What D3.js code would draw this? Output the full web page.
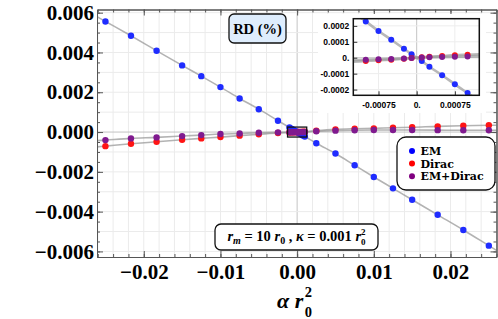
<!DOCTYPE html>
<html>
<head>
<meta charset="utf-8">
<script src="https://cdn.jsdelivr.net/npm/d3@7"></script>
<style>
  body { margin: 0; background: #fff; }
  svg { display: block; }
</style>
</head>
<body>
<div id="chart"></div>
<script>

// data
var alphaValues = [-0.025, -0.02167, -0.01833, -0.015, -0.0125, -0.01, -0.0075, -0.005, -0.0025, -0.001,
  -0.00075, -0.0005, -0.00025, -0.0001, 0.0001, 0.00025, 0.0005, 0.00075, 0.001,
  0.0025, 0.005, 0.0075, 0.01, 0.0125, 0.015, 0.01833, 0.02167, 0.025];

var emValues = [0.00556, 0.00484, 0.00409, 0.00335, 0.00281, 0.00226, 0.00169, 0.00115, 0.00057, 0.000228,
  0.000168, 0.000113, 0.0000565, 0.0000213, -0.0000207, -0.0000565, -0.00011, -0.000167, -0.000222,
  -0.00056, -0.00108, -0.00167, -0.00226, -0.00283, -0.0034, -0.00416, -0.00492, -0.00571];

var diracValues = [-0.000708, -0.000591, -0.00049, -0.000389, -0.000318, -0.000253, -0.00018, -0.000115, -0.00005, -0.0000207,
  -0.0000165, -0.000012, -0.000006, -0.000002, 0.000003, 0.000006, 0.000011, 0.000016, 0.000019,
  0.00007, 0.000136, 0.000167, 0.000187, 0.000217, 0.000238, 0.000288, 0.000318, 0.000339];

var emDiracValues = [-0.000404, -0.000318, -0.000268, -0.000202, -0.000152, -0.000101, -0.00007, -0.000035, -0.000015, -0.0000126,
  -0.00001, -0.000008, -0.000005, -0.000002, 0.000001, 0.000003, 0.000005, 0.000006, 0.000008,
  0.00004, 0.00007, 0.00009, 0.0001, 0.0001, 0.0001, 0.000095, 0.00009, 0.00009];

var seriesNames = ["EM", "Dirac", "EM+Dirac"];
var seriesColors = ["#1f2cff", "#ff1414", "#801a8f"];
var legendColors = ["#0000ff", "#ff0000", "#800080"];

var xTickValues = [-0.02, -0.01, 0, 0.01, 0.02];
var yTickValues = [-0.006, -0.004, -0.002, 0, 0.002, 0.004, 0.006];
var insetXTicks = [-0.00075, 0, 0.00075];
var insetXLabels = ["-0.00075", "0.", "0.00075"];
var insetYTicks = [-0.0002, -0.0001, 0, 0.0001, 0.0002];
var insetYLabels = ["-0.0002", "-0.0001", "0.", "0.0001", "0.0002"];

var seriesValues = [emValues, diracValues, emDiracValues];

// size of the page
var width = 498, height = 319;

var svg = d3.select("#chart").append("svg")
    .attr("width", width)
    .attr("height", height);

// main plot scales
var x = d3.scaleLinear().domain([-0.0261, 0.026]).range([97, 496.5]);
var y = d3.scaleLinear().domain([-0.00628, 0.00616]).range([257, 9.5]);

var serif = "'Liberation Serif', 'Times New Roman', serif";
var wideSerif = "'DejaVu Serif', serif";
var frameColor = "#555";

svg.append("clipPath").attr("id", "mainClip")
  .append("rect")
    .attr("x", x.range()[0]).attr("y", y.range()[1])
    .attr("width", x.range()[1] - x.range()[0])
    .attr("height", y.range()[0] - y.range()[1]);

// gridlines
var grid = svg.append("g");
grid.selectAll(".vgrid")
    .data(d3.range(-0.026, 0.0261, 0.002))
  .enter().append("line")
    .attr("x1", function(d) { return x(d); })
    .attr("x2", function(d) { return x(d); })
    .attr("y1", y.range()[0]).attr("y2", y.range()[1])
    .style("stroke", function(d) { return Math.abs(d) < 1e-9 ? "#c4c4c4" : "#ebebeb"; })
    .style("stroke-width", 1);
grid.selectAll(".hgrid")
    .data(d3.range(-0.006, 0.00601, 0.001))
  .enter().append("line")
    .attr("x1", x.range()[0]).attr("x2", x.range()[1])
    .attr("y1", function(d) { return y(d); })
    .attr("y2", function(d) { return y(d); })
    .style("stroke", function(d) { return Math.abs(d) < 1e-9 ? "#c4c4c4" : "#ebebeb"; })
    .style("stroke-width", 1);

// extends a series linearly out to the given edges
function extendLine(vals, x0, x1) {
  var pts = alphaValues.map(function(a, i) { return [a, vals[i]]; })
    .filter(function(p) { return p[0] >= x0 && p[0] <= x1; });
  var n = pts.length;
  var s0 = (pts[1][1] - pts[0][1]) / (pts[1][0] - pts[0][0]);
  var s1 = (pts[n - 1][1] - pts[n - 2][1]) / (pts[n - 1][0] - pts[n - 2][0]);
  return [[x0, pts[0][1] + s0 * (x0 - pts[0][0])]]
    .concat(pts)
    .concat([[x1, pts[n - 1][1] + s1 * (x1 - pts[n - 1][0])]]);
}

var mainLine = d3.line()
    .x(function(d) { return x(d[0]); })
    .y(function(d) { return y(d[1]); })
    .curve(d3.curveMonotoneX);

var plot = svg.append("g").attr("clip-path", "url(#mainClip)");

seriesValues.forEach(function(vals) {
  plot.append("path")
      .datum(extendLine(vals, x.domain()[0], x.domain()[1]))
      .attr("d", mainLine)
      .style("fill", "none")
      .style("stroke", "#9a9a9a")
      .style("stroke-opacity", 0.75)
      .style("stroke-width", 1.6);
});

seriesValues.forEach(function(vals, k) {
  plot.selectAll(".pt" + k)
      .data(alphaValues)
    .enter().append("circle")
      .attr("cx", function(d) { return x(d); })
      .attr("cy", function(d, i) { return y(vals[i]); })
      .attr("r", 3.2)
      .style("fill", seriesColors[k]);
});

// zoom box around the origin
svg.append("rect")
    .attr("x", x(-0.00125)).attr("y", y(0.00025))
    .attr("width", x(0.00125) - x(-0.00125))
    .attr("height", y(-0.00025) - y(0.00025))
    .style("fill", "none")
    .style("stroke", "#111")
    .style("stroke-width", 1.3);

// axes with inward ticks on all four sides
function styleAxis(g) {
  g.select(".domain").style("stroke", frameColor);
  g.selectAll(".tick line").style("stroke", frameColor);
}

var minorX = d3.range(-0.026, 0.0261, 0.002);
var minorY = d3.range(-0.006, 0.00601, 0.0005);

svg.append("g")
    .attr("transform", "translate(0," + y.range()[0] + ")")
    .call(d3.axisBottom(x).tickValues(minorX).tickSize(-3).tickSizeOuter(0).tickFormat(""))
    .call(styleAxis);
svg.append("g")
    .attr("transform", "translate(0," + y.range()[1] + ")")
    .call(d3.axisTop(x).tickValues(minorX).tickSize(-3).tickSizeOuter(0).tickFormat(""))
    .call(styleAxis);
svg.append("g")
    .attr("transform", "translate(" + x.range()[0] + ",0)")
    .call(d3.axisLeft(y).tickValues(minorY).tickSize(-3).tickSizeOuter(0).tickFormat(""))
    .call(styleAxis);
svg.append("g")
    .attr("transform", "translate(" + x.range()[1] + ",0)")
    .call(d3.axisRight(y).tickValues(minorY).tickSize(-3).tickSizeOuter(0).tickFormat(""))
    .call(styleAxis);

var xAxis = svg.append("g")
    .attr("transform", "translate(0," + y.range()[0] + ")")
    .call(d3.axisBottom(x).tickValues(xTickValues).tickSize(-6).tickSizeOuter(0)
      .tickPadding(7).tickFormat(d3.format(".2f")))
    .call(styleAxis);
svg.append("g")
    .attr("transform", "translate(0," + y.range()[1] + ")")
    .call(d3.axisTop(x).tickValues(xTickValues).tickSize(-6).tickSizeOuter(0).tickFormat(""))
    .call(styleAxis);
var yAxis = svg.append("g")
    .attr("transform", "translate(" + x.range()[0] + ",0)")
    .call(d3.axisLeft(y).tickValues(yTickValues).tickSize(-6).tickSizeOuter(0)
      .tickPadding(3).tickFormat(d3.format(".3f")))
    .call(styleAxis);
svg.append("g")
    .attr("transform", "translate(" + x.range()[1] + ",0)")
    .call(d3.axisRight(y).tickValues(yTickValues).tickSize(-6).tickSizeOuter(0).tickFormat(""))
    .call(styleAxis);

[xAxis, yAxis].forEach(function(g) {
  g.selectAll("text")
      .style("font-family", serif)
      .style("font-weight", "bold")
      .style("font-size", "21px")
      .style("fill", "#000");
});

// x axis title: alpha r0^2
var xTitle = svg.append("text")
    .attr("x", 277)
    .attr("y", 308)
    .style("font-family", serif)
    .style("font-weight", "bold")
    .style("font-style", "italic")
    .style("font-size", "22px");
xTitle.append("tspan").text("\u03b1 r");
xTitle.append("tspan").attr("dx", 1.5).attr("dy", -11).style("font-size", "14.5px").style("font-style", "normal").text("2");
xTitle.append("tspan").attr("dx", -7.3).attr("dy", 19.5).style("font-size", "14.5px").style("font-style", "normal").text("0");

// RD (%) label
svg.append("rect")
    .attr("x", 229).attr("y", 14).attr("width", 57).attr("height", 29)
    .attr("rx", 5).attr("ry", 5)
    .style("fill", "#deedfd")
    .style("stroke", "#111")
    .style("stroke-width", 1.3);
svg.append("text")
    .attr("x", 257.5).attr("y", 29)
    .attr("text-anchor", "middle")
    .attr("dominant-baseline", "central")
    .style("font-family", serif)
    .style("font-weight", "bold")
    .style("font-size", "14.5px")
    .text("RD (%)");

// parameter label
svg.append("rect")
    .attr("x", 215).attr("y", 224).attr("width", 163).attr("height", 26)
    .attr("rx", 6).attr("ry", 6)
    .style("fill", "#fff")
    .style("stroke", "#111")
    .style("stroke-width", 1.3);
var params = svg.append("text")
    .attr("x", 296.5).attr("y", 241)
    .attr("text-anchor", "middle")
    .style("font-family", serif)
    .style("font-weight", "bold")
    .style("font-size", "14.5px");
params.append("tspan").style("font-style", "italic").text("r");
params.append("tspan").attr("dy", 3).style("font-style", "italic").style("font-size", "10px").text("m");
params.append("tspan").attr("dy", -3).text(" = 10 ");
params.append("tspan").style("font-style", "italic").text("r");
params.append("tspan").attr("dy", 3).style("font-size", "10px").text("0");
params.append("tspan").attr("dy", -3).text(" ,  ");
params.append("tspan").style("font-style", "italic").text("\u03ba");
params.append("tspan").text(" = 0.001 ");
params.append("tspan").style("font-style", "italic").text("r");
params.append("tspan").attr("dy", -6.5).style("font-size", "9px").text("2");
params.append("tspan").attr("dx", -4.5).attr("dy", 10.5).style("font-size", "9px").text("0");

// legend
var legend = svg.append("g");
legend.append("rect")
    .attr("x", 397).attr("y", 137).attr("width", 98).attr("height", 53)
    .attr("rx", 9).attr("ry", 9)
    .style("fill", "#fff")
    .style("stroke", "#111")
    .style("stroke-width", 1.3);
var legendItem = legend.selectAll(".item")
    .data(seriesNames)
  .enter().append("g")
    .attr("transform", function(d, i) { return "translate(412," + (151 + i * 12.6) + ")"; });
legendItem.append("circle")
    .attr("r", 3)
    .style("fill", function(d, i) { return legendColors[i]; });
legendItem.append("text")
    .attr("x", 8.5)
    .attr("dy", "0.36em")
    .style("font-family", wideSerif)
    .style("font-weight", "bold")
    .style("font-size", "11px")
    .text(function(d) { return d; });

// inset
var ix = d3.scaleLinear().domain([-0.001245, 0.00123]).range([353.3, 479.3]);
var iy = d3.scaleLinear().domain([-0.000236, 0.000245]).range([95.3, 18.7]);

svg.append("rect")
    .attr("x", 318).attr("y", 14).attr("width", 168).attr("height", 99)
    .style("fill", "#fff");

svg.append("clipPath").attr("id", "insetClip")
  .append("rect")
    .attr("x", ix.range()[0]).attr("y", iy.range()[1])
    .attr("width", ix.range()[1] - ix.range()[0])
    .attr("height", iy.range()[0] - iy.range()[1]);

var inset = svg.append("g");
inset.selectAll(".ivgrid")
    .data(insetXTicks)
  .enter().append("line")
    .attr("x1", function(d) { return ix(d); }).attr("x2", function(d) { return ix(d); })
    .attr("y1", iy.range()[0]).attr("y2", iy.range()[1])
    .style("stroke", function(d) { return d === 0 ? "#c4c4c4" : "#ededed"; });
inset.selectAll(".ihgrid")
    .data(insetYTicks)
  .enter().append("line")
    .attr("x1", ix.range()[0]).attr("x2", ix.range()[1])
    .attr("y1", function(d) { return iy(d); }).attr("y2", function(d) { return iy(d); })
    .style("stroke", function(d) { return d === 0 ? "#c4c4c4" : "#ededed"; });

var insetLine = d3.line()
    .x(function(d) { return ix(d[0]); })
    .y(function(d) { return iy(d[1]); })
    .curve(d3.curveMonotoneX);

var insetPlot = inset.append("g").attr("clip-path", "url(#insetClip)");
seriesValues.forEach(function(vals) {
  insetPlot.append("path")
      .datum(extendLine(vals, ix.domain()[0], ix.domain()[1]))
      .attr("d", insetLine)
      .style("fill", "none")
      .style("stroke", "#9a9a9a")
      .style("stroke-opacity", 0.7)
      .style("stroke-width", 2.6);
});
seriesValues.forEach(function(vals, k) {
  insetPlot.selectAll(".ipt" + k)
      .data(alphaValues.filter(function(a) { return a >= ix.domain()[0] && a <= ix.domain()[1]; }))
    .enter().append("circle")
      .attr("cx", function(d) { return ix(d); })
      .attr("cy", function(d) { return iy(vals[alphaValues.indexOf(d)]); })
      .attr("r", 3)
      .style("fill", seriesColors[k]);
});

var insetXAxis = inset.append("g")
    .attr("transform", "translate(0," + iy.range()[0] + ")")
    .call(d3.axisBottom(ix).tickValues(insetXTicks).tickSize(-4).tickSizeOuter(0)
      .tickPadding(7).tickFormat(function(d, i) { return insetXLabels[i]; }));
var insetYAxis = inset.append("g")
    .attr("transform", "translate(" + ix.range()[0] + ",0)")
    .call(d3.axisLeft(iy).tickValues(insetYTicks).tickSize(-4).tickSizeOuter(0)
      .tickPadding(4).tickFormat(function(d, i) { return insetYLabels[i]; }));
[insetXAxis, insetYAxis].forEach(function(g) {
  g.select(".domain").remove();
  g.selectAll(".tick line").style("stroke", "#333");
  g.selectAll("text")
      .style("font-family", "'Liberation Sans', Arial, sans-serif")
      .style("font-weight", "bold")
      .style("font-size", "8.5px")
      .style("fill", "#000");
});

inset.append("rect")
    .attr("x", ix.range()[0]).attr("y", iy.range()[1])
    .attr("width", ix.range()[1] - ix.range()[0])
    .attr("height", iy.range()[0] - iy.range()[1])
    .style("fill", "none")
    .style("stroke", "#111")
    .style("stroke-width", 1.5);

</script>
</body>
</html>
